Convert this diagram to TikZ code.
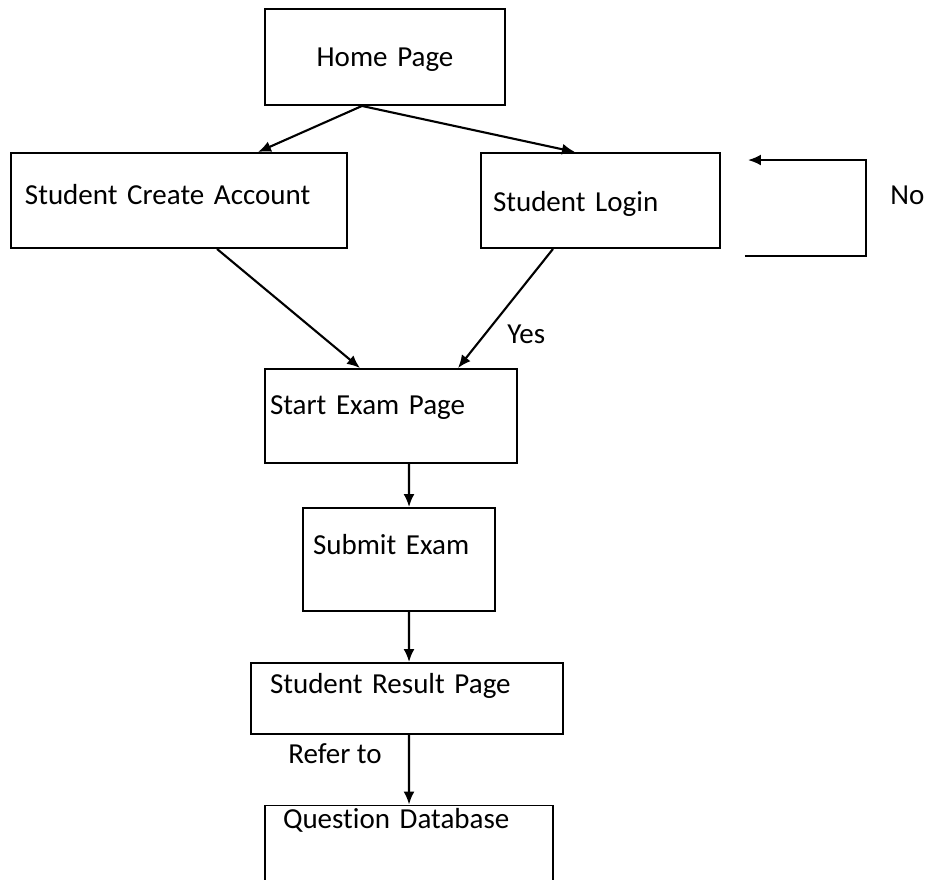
\documentclass[tikz,border=0pt]{standalone}
\usepackage{fontspec}
\setmainfont{Carlito}[Ligatures=NoCommon]
\usepackage{tikz}
\usetikzlibrary{arrows.meta}
\usetikzlibrary{positioning}

\begin{document}
\begin{tikzpicture}[>={Latex[length=2.6mm,width=2.2mm]},
		box/.style={rectangle,draw=black,line width=1.1pt,inner ysep=0pt,align=left,
			font=\fontsize{16.5}{20}\selectfont},
		lbl/.style={inner sep=0pt,font=\fontsize{16.5}{20}\selectfont},
		arr/.style={->,line width=1.2pt}]
		\useasboundingbox (0,0) rectangle (18.54,17.58);
		
		\node[box,align=center,inner xsep=0pt,text width=4.8cm,text height=1.16cm,text depth=0.76cm]
			(home)   at (7.70,16.44) {Home Page};
		\node[box,inner xsep=0.28cm,text width=6.16cm,text height=1.04cm,text depth=0.86cm]
			(create) at (3.58,13.57) {Student Create Account};
		\node[box,inner xsep=0.24cm,text width=4.30cm,text height=1.18cm,text depth=0.72cm]
			(login)  at (12.01,13.57) {Student Login};
		\node[box,inner xsep=0.10cm,text width=4.84cm,text height=0.92cm,text depth=0.96cm]
			(start)  at (7.82,9.26) {Start Exam Page};
		\node[box,inner xsep=0.20cm,text width=3.44cm,text height=0.94cm,text depth=1.12cm]
			(submit) at (7.98,6.39) {Submit Exam};
		\node[box,inner xsep=0.38cm,text width=5.48cm,text height=0.60cm,text depth=0.82cm]
			(result) at (8.14,3.61) {Student Result Page};
		\node[box,inner xsep=0.36cm,text width=5.04cm,text height=0.46cm,text depth=1.04cm]
			(qdb)    at (8.18,0.72) {Question Database};
		
		% labels
		\node[lbl,anchor=base west] (yes)   at (10.14,10.70) {Yes};
		\node[lbl,anchor=base west] (no)    at (17.80,13.48) {No};
		\node[lbl,anchor=base west] (refer) at (5.76,2.32)   {Refer to};
		
		% loop back into login
		\coordinate (loopfrom) at ([xshift=0.48cm,yshift=-0.14cm]login.south east);
		\coordinate (loopto)   at ([xshift=0.54cm,yshift=-0.16cm]login.north east);
		
		\draw[arr] ([xshift=-0.46cm]home.south) -- ([xshift=1.58cm]create.north);
		\draw[arr] ([xshift=-0.46cm]home.south) -- ([xshift=-0.51cm]login.north);
		\draw[arr] ([xshift=0.76cm]create.south) -- ([xshift=-0.62cm]start.north);
		\draw[arr] ([xshift=-0.95cm]login.south) -- ([xshift=1.34cm]start.north);
		\draw[arr] ([xshift=0.36cm]start.south) -- ([xshift=0.20cm]submit.north);
		\draw[arr] ([xshift=0.20cm]submit.south) -- ([xshift=0.04cm]result.north);
		\draw[arr] ([xshift=0.04cm]result.south) -- (qdb.north);
		\draw[arr] (loopfrom) -- ++(2.42,0) |- (loopto);
\end{tikzpicture}
\end{document}
